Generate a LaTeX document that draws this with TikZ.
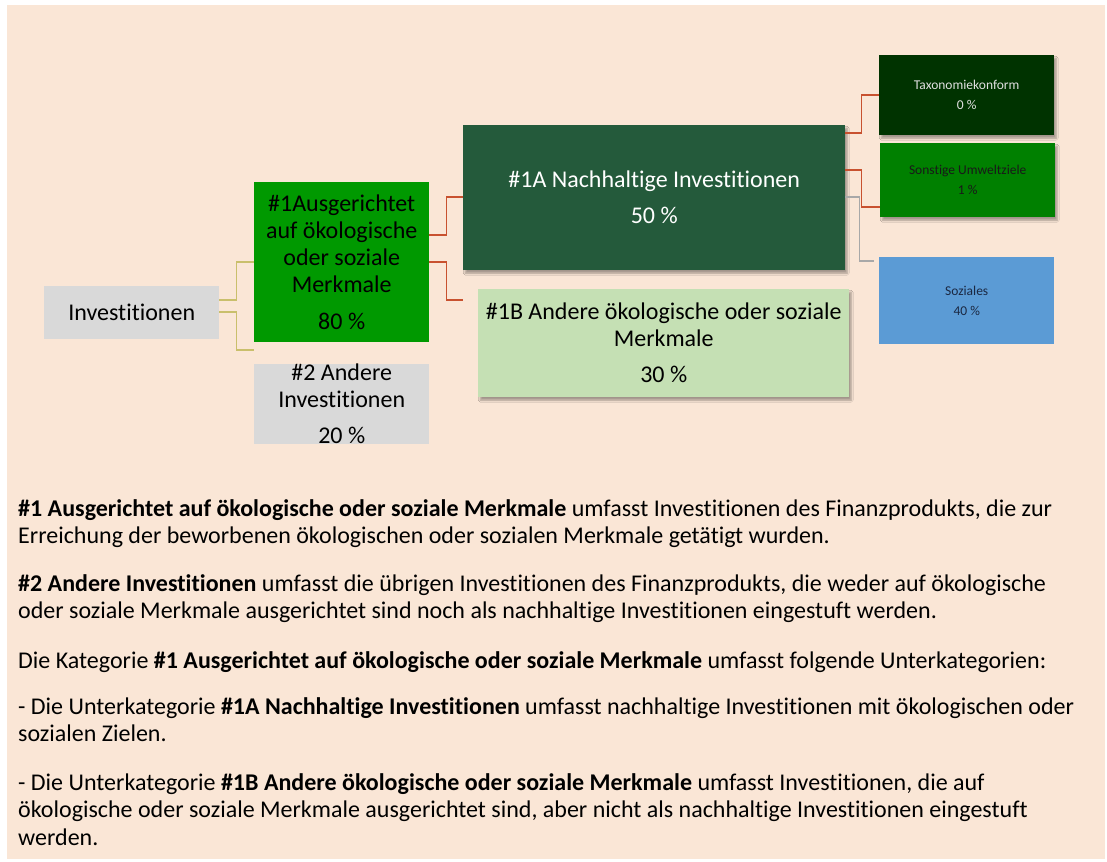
\documentclass[tikz,border=0pt]{standalone}
\usepackage{fontspec}
\setmainfont{Carlito}[Ligatures={NoCommon},RawFeature={-liga;-clig;-calt;-dlig}]
\usetikzlibrary{shadows.blur,calc}
\definecolor{peach}{HTML}{FAE6D6}
\definecolor{boxgray}{HTML}{D9D9D9}
\definecolor{brightgreen}{HTML}{009900}
\definecolor{darkgreen}{HTML}{245A3B}
\definecolor{lightgreen}{HTML}{C5E0B4}
\definecolor{deepgreen}{HTML}{003300}
\definecolor{midgreen}{HTML}{008000}
\definecolor{skyblue}{HTML}{5B9BD5}
\definecolor{redline}{HTML}{C8512F}
\definecolor{oliveline}{HTML}{C9BF6C}
\definecolor{grayline}{HTML}{A8A8A8}
\tikzset{
  box/.style={draw=none, inner sep=0pt, anchor=north west, align=center,
    font=\fontsize{24}{27}\selectfont},
  smallbox/.style={box, font=\fontsize{13.5}{16}\selectfont},
  shade/.style={blur shadow={shadow xshift=2pt, shadow yshift=-3pt, shadow blur steps=6, shadow opacity=35}},
  redc/.style={draw=redline, line width=1.6pt},
  olc/.style={draw=oliveline, line width=1.2pt},
  grc/.style={draw=grayline, line width=1.2pt},
  para/.style={anchor=base west, inner sep=0pt, align=left,
    font=\fontsize{24}{27.5}\selectfont}
}
\begin{document}
\begin{tikzpicture}[x=1pt,y=-1pt]
\useasboundingbox (0,0) rectangle (1107,861);
\fill[white] (0,0) rectangle (1107,861);
\fill[peach] (7,5) rectangle (1105,859);

% boxes
\node[box, fill=boxgray, minimum width=175pt, minimum height=53pt] (inv) at (44,286) {Investitionen};
\node[box, fill=brightgreen, minimum width=175pt, minimum height=160pt] (a1) at (254,182)
  {\#1Ausgerichtet\\auf ökologische\\oder soziale\\Merkmale\\[10pt]80 \%};
\node[box, fill=boxgray, minimum width=175pt, minimum height=79pt] (a2) at (254,364)
  {\#2 Andere\\Investitionen\\[9pt]20 \%};
\node[box, shade, fill=darkgreen, text=white, minimum width=382pt, minimum height=145pt] (b1) at (463,125)
  {\#1A Nachhaltige Investitionen\\[9pt]50 \%};
\node[box, shade, fill=lightgreen, minimum width=371pt, minimum height=108pt] (b2) at (478,289)
  {\#1B Andere ökologische oder soziale\\Merkmale\\[9pt]30 \%};
\node[smallbox, shade, fill=deepgreen, text=black!12, minimum width=175pt, minimum height=80pt] (c1) at (879,55)
  {Taxonomiekonform\\[4pt]0 \%};
\node[smallbox, shade, fill=midgreen, text=black!90, minimum width=175pt, minimum height=74pt] (c2) at (880,143)
  {Sonstige Umweltziele\\[4pt]1 \%};
\node[smallbox, fill=skyblue, text={rgb,255:red,27;green,40;blue,66}, minimum width=175pt, minimum height=87pt] (c3) at (879,257)
  {Soziales\\[4pt]40 \%};

% connectors
\draw[olc] ([yshift=-14pt]inv.north east) -- ++(17,0) |- ([yshift=-80pt]a1.north west);
\draw[olc] ([yshift=-26pt]inv.north east) -- ++(17,0) |- ([yshift=14pt]a2.north west);
\draw[redc] ([yshift=-53pt]a1.north east) -- ++(17,0) |- ([yshift=-72pt]b1.north west);
\draw[redc] ([yshift=-80pt]a1.north east) -- ++(17,0) |- ([xshift=-15pt,yshift=-11pt]b2.north west);
\draw[redc] ([yshift=-8pt]b1.north east) -- ++(16,0) |- ([yshift=-40pt]c1.north west);
\draw[redc] ([yshift=-45pt]b1.north east) -- ++(16,0) |- ([yshift=-64pt]c2.north west);
\draw[grc] ([yshift=-72pt]b1.north east) -- ++(14,0) |- ([xshift=-5pt,yshift=-4pt]c3.north west);

% explanatory text (anchor = baseline of last line)
\node[para] (p1) at (18,543.5) {\textbf{\#1 Ausgerichtet auf ökologische oder soziale Merkmale} umfasst Investitionen des Finanzprodukts, die zur\\Erreichung der beworbenen ökologischen oder sozialen Merkmale getätigt wurden.};
\node[para] (p2) at (18,618.5) {\textbf{\#2 Andere Investitionen} umfasst die übrigen Investitionen des Finanzprodukts, die weder auf ökologische\\oder soziale Merkmale ausgerichtet sind noch als nachhaltige Investitionen eingestuft werden.};
\node[para] (p3) at (18,668) {Die Kategorie \textbf{\#1 Ausgerichtet auf ökologische oder soziale Merkmale} umfasst folgende Unterkategorien:};
\node[para] (p4) at (18,741.5) {- Die Unterkategorie \textbf{\#1A Nachhaltige Investitionen} umfasst nachhaltige Investitionen mit ökologischen oder\\sozialen Zielen.};
\node[para] (p5) at (18,845) {- Die Unterkategorie \textbf{\#1B Andere ökologische oder soziale Merkmale} umfasst Investitionen, die auf\\ökologische oder soziale Merkmale ausgerichtet sind, aber nicht als nachhaltige Investitionen eingestuft\\werden.};
\end{tikzpicture}
\end{document}
